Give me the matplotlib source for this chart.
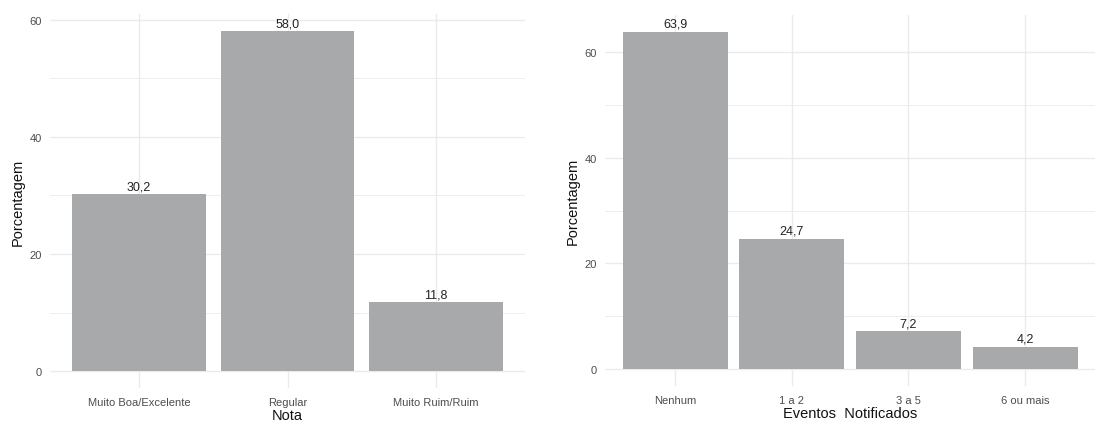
import matplotlib
matplotlib.use("Agg")
import matplotlib.pyplot as plt
import numpy as np

plt.rcParams['font.family'] = ['Liberation Sans', 'DejaVu Sans']

notas = ["Muito Boa/Excelente", "Regular", "Muito Ruim/Ruim"]
notas_pct = [30.2, 58.0, 11.8]

eventos = ["Nenhum", "1 a 2", "3 a 5", "6 ou mais"]
eventos_pct = [63.9, 24.7, 7.2, 4.2]

BAR = "#A8A9AA"
GRID = "#EBEBEB"
TICK = "#4D4D4D"

W, H = 1100, 427
fig = plt.figure(figsize=(W / 100, H / 100), dpi=100)


def panel(rect_px, cats, vals, xlabel):
    l, t, r, b = rect_px
    ax = fig.add_axes([l / W, 1 - b / H, (r - l) / W, (b - t) / H])
    x = np.arange(len(cats))
    ax.bar(x, vals, width=0.9, color=BAR, zorder=2)
    for xi, v in zip(x, vals):
        ax.annotate(f"{v:.1f}".replace(".", ","), (xi, v), xytext=(0, 1.5),
                    textcoords="offset points", ha="center", va="bottom",
                    fontsize=9, color="#222222", zorder=3)
    vmax = max(vals)
    ax.set_xlim(-0.6, len(cats) - 1 + 0.6)
    ax.set_ylim(-0.05 * vmax, vmax * 1.05)
    ax.set_yticks([0, 20, 40, 60])
    ax.set_yticks([10, 30, 50], minor=True)
    ax.set_xticks(x)
    ax.set_xticklabels(cats)
    ax.grid(True, which="major", color=GRID, linewidth=1.0, zorder=0)
    ax.grid(True, which="minor", axis="y", color=GRID, linewidth=0.6, zorder=0)
    ax.set_axisbelow(True)
    for s in ax.spines.values():
        s.set_visible(False)
    ax.tick_params(axis="both", which="both", length=0, colors=TICK, labelsize=8)
    ax.tick_params(axis="x", pad=6.5)
    ax.tick_params(axis="y", pad=6)
    ax.set_ylabel("Porcentagem", fontsize=10.5, color="#111111", labelpad=3)
    ax.set_xlabel(xlabel, fontsize=10.5, color="#111111", labelpad=0.5)
    return ax


panel((50, 15.4, 525, 389.3), notas, notas_pct, "Nota")
panel((605, 15.7, 1095, 387), eventos, eventos_pct, "Eventos  Notificados")

fig.savefig("out.png", dpi=100, facecolor="white")
